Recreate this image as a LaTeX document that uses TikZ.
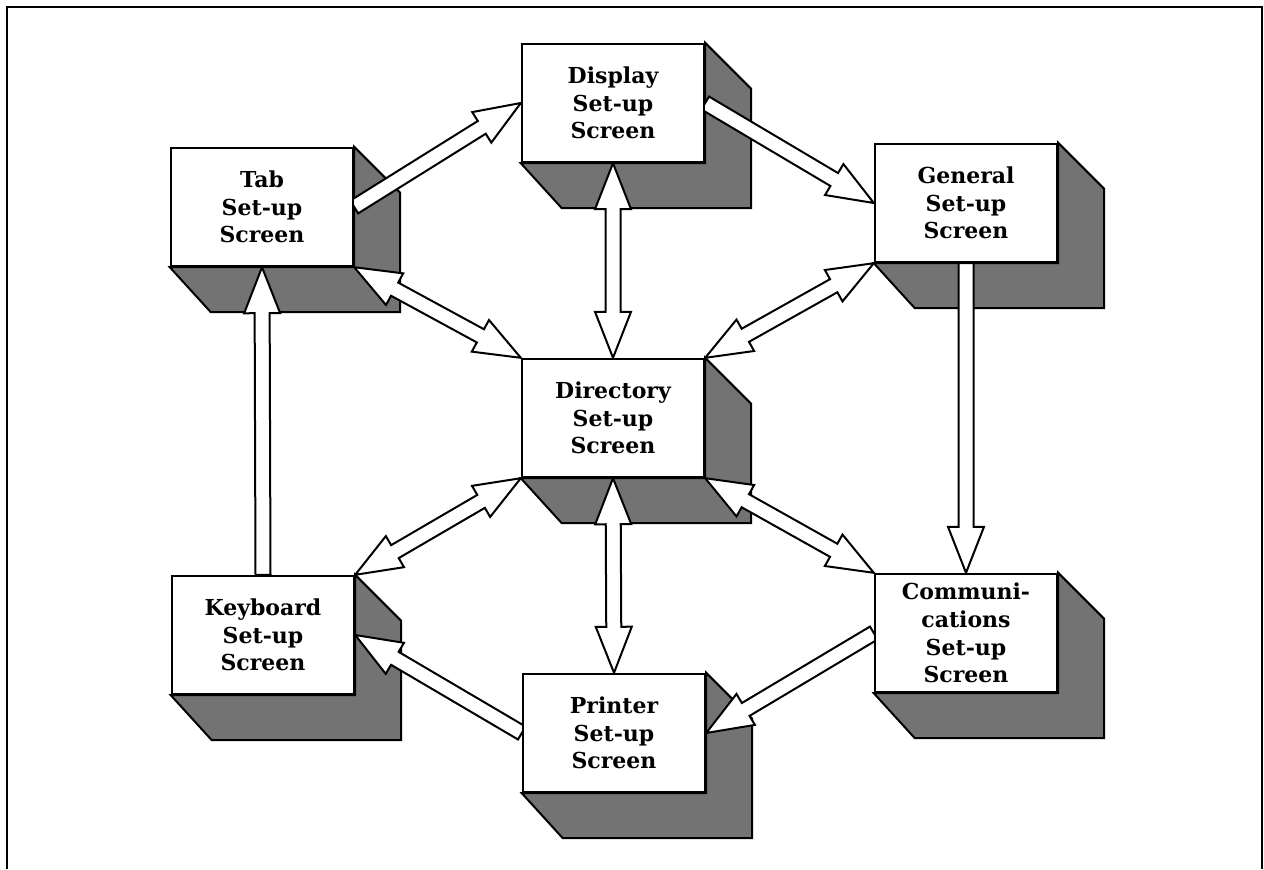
\documentclass[tikz,border=0pt]{standalone}
\usepackage{fontspec}
\setmainfont{DejaVu Serif}
\usetikzlibrary{calc}
\pgfdeclarelayer{shadowlayer}
\pgfdeclarelayer{arrowlayer}
\pgfsetlayers{shadowlayer,arrowlayer,main}

\tikzset{
  screen/.style={draw, line width=1.2pt, fill=white, minimum width=91pt,
    minimum height=59pt, inner sep=0pt, align=center,
    font=\bfseries\fontsize{11}{13.8}\selectfont},
  shade3d/.style={draw, line width=1pt, fill=black!55, line join=miter},
  arrowbody/.style={draw, line width=1pt, fill=white, line join=miter},
  % hollow arrow with one head at the target
  onehead/.style={arrowbody, to path={
    ($(\tikztostart)!3.75pt!90:(\tikztotarget)$)
    -- ($(\tikztotarget)!23pt!(\tikztostart)!3.75pt!-90:(\tikztostart)$)
    -- ($(\tikztotarget)!23pt!(\tikztostart)!9pt!-90:(\tikztostart)$)
    -- (\tikztotarget)
    -- ($(\tikztotarget)!23pt!(\tikztostart)!9pt!90:(\tikztostart)$)
    -- ($(\tikztotarget)!23pt!(\tikztostart)!3.75pt!90:(\tikztostart)$)
    -- ($(\tikztostart)!3.75pt!-90:(\tikztotarget)$)
    -- cycle}},
  % hollow arrow with heads at both ends
  twohead/.style={arrowbody, to path={
    (\tikztostart)
    -- ($(\tikztostart)!23pt!(\tikztotarget)!9pt!90:(\tikztotarget)$)
    -- ($(\tikztostart)!23pt!(\tikztotarget)!3.75pt!90:(\tikztotarget)$)
    -- ($(\tikztotarget)!23pt!(\tikztostart)!3.75pt!-90:(\tikztostart)$)
    -- ($(\tikztotarget)!23pt!(\tikztostart)!9pt!-90:(\tikztostart)$)
    -- (\tikztotarget)
    -- ($(\tikztotarget)!23pt!(\tikztostart)!9pt!90:(\tikztostart)$)
    -- ($(\tikztotarget)!23pt!(\tikztostart)!3.75pt!90:(\tikztostart)$)
    -- ($(\tikztostart)!23pt!(\tikztotarget)!3.75pt!-90:(\tikztotarget)$)
    -- ($(\tikztostart)!23pt!(\tikztotarget)!9pt!-90:(\tikztotarget)$)
    -- cycle}},
}

% shaded extrusion behind a screen box
\newcommand{\extrude}[1]{%
  \begin{pgfonlayer}{shadowlayer}
    \draw[shade3d] (#1.north east)
      -- ([shift={(23pt,-23pt)}]#1.north east)
      -- ([shift={(23pt,-22.5pt)}]#1.south east)
      -- ([shift={(20.5pt,-22.5pt)}]#1.south west)
      -- (#1.south west) -- (#1.south east) -- cycle;
  \end{pgfonlayer}}

\begin{document}
\begin{tikzpicture}[x=0.5pt, y=-0.5pt]
  \useasboundingbox (0,0) rectangle (1264,869);

  % outer frame
  \draw[line width=1.2pt] (7,869) -- (7,7) -- (1262,7) -- (1262,869);

  % screens
  \node[screen] (tab)       at (262,207) {Tab\\Set-up\\Screen};
  \node[screen] (display)   at (613,103) {Display\\Set-up\\Screen};
  \node[screen] (general)   at (966,203) {General\\Set-up\\Screen};
  \node[screen] (directory) at (613,418) {Directory\\Set-up\\Screen};
  \node[screen] (keyboard)  at (263,635) {Keyboard\\Set-up\\Screen};
  \node[screen] (printer)   at (614,733) {Printer\\Set-up\\Screen};
  \node[screen] (comm)      at (966,633) {Communi-\\cations\\Set-up\\Screen};

  \foreach \s in {tab,display,general,directory,keyboard,printer,comm}{\extrude{\s}}

  \begin{pgfonlayer}{arrowlayer}
    \draw[onehead] (tab.east) to (display.west);
    \draw[onehead] (display.east) to (general.west);
    \draw[twohead] (display.south) to (directory.north);
    \draw[twohead] (tab.south east) to (directory.north west);
    \draw[twohead] (general.south west) to (directory.north east);
    \draw[onehead] (general.south) to (comm.north);
    \draw[twohead] (directory.south west) to (keyboard.north east);
    \draw[twohead] (directory.south) to (printer.north);
    \draw[twohead] (directory.south east) to (comm.north west);
    \draw[onehead] (comm.west) to (printer.east);
    \draw[onehead] (printer.west) to (keyboard.east);
    \draw[onehead] (keyboard.north) to (tab.south);
  \end{pgfonlayer}
\end{tikzpicture}
\end{document}
